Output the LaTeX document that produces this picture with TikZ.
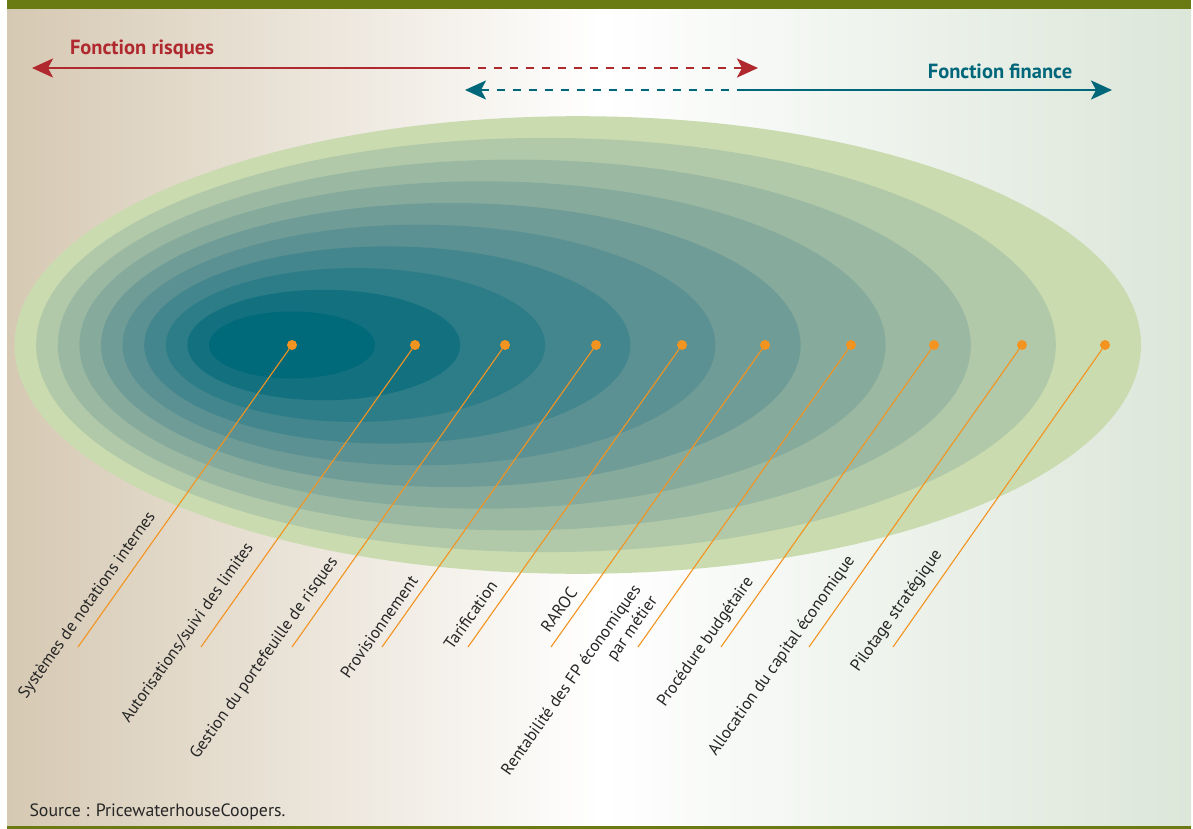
\documentclass[tikz,border=0pt]{standalone}
\usepackage{fontspec}
\setmainfont{PT Sans}
\definecolor{bgtan}{HTML}{D6C9B3}
\definecolor{bggreen}{HTML}{DCE6D9}
\definecolor{barolive}{HTML}{6B7B14}
\definecolor{riskred}{HTML}{B0292E}
\definecolor{finteal}{HTML}{00677A}
\definecolor{dotorange}{HTML}{F39320}
\definecolor{labelgray}{HTML}{262626}
\definecolor{ring0}{HTML}{006A7B}
\definecolor{ring1}{HTML}{12707F}
\definecolor{ring2}{HTML}{2C7D87}
\definecolor{ring3}{HTML}{43868E}
\definecolor{ring4}{HTML}{5B9192}
\definecolor{ring5}{HTML}{709C97}
\definecolor{ring6}{HTML}{86AB9D}
\definecolor{ring7}{HTML}{9BB9A2}
\definecolor{ring8}{HTML}{B1C9A9}
\definecolor{ring9}{HTML}{CADBAF}
\usetikzlibrary{arrows.meta}

\begin{document}
\begin{tikzpicture}[x=1pt, y=-1pt,
  dot/.style={circle, fill=dotorange, inner sep=0pt, minimum size=10pt},
  lead/.style={dotorange, line width=1.1pt},
  lbl/.style={rotate=54.7, font=\fontsize{16.8}{20}\selectfont, text=labelgray,
    inner sep=0pt},
  riskline/.style={riskred, line width=2.6pt},
  finline/.style={finteal, line width=2.6pt},
  gap/.style={dash pattern=on 8pt off 8pt, dash phase=8pt},
  head/.style={-{Stealth[length=21pt, width=19pt, inset=5pt]}},
  title/.style={font=\fontsize{20.5}{22}\selectfont\bfseries}
]
  \useasboundingbox (0,0) rectangle (1193,829);

  % Frame and background
  \shade[left color=bgtan, right color=bggreen, middle color=white] (7,9) rectangle (1191,826);
  \fill[barolive] (7,0) rectangle (1191,9);
  \fill[barolive] (7,826) rectangle (1191,829);

  % Nested rings, outermost first
  \fill[ring9] (577.8,345) ellipse [x radius=563.2pt, y radius=228.8pt];
  \fill[ring8] (546.0,345) ellipse [x radius=509.8pt, y radius=207.1pt];
  \fill[ring7] (514.3,345) ellipse [x radius=456.5pt, y radius=185.4pt];
  \fill[ring6] (482.5,345) ellipse [x radius=403.1pt, y radius=163.7pt];
  \fill[ring5] (450.8,345) ellipse [x radius=349.8pt, y radius=142.0pt];
  \fill[ring4] (419.0,345) ellipse [x radius=296.4pt, y radius=120.3pt];
  \fill[ring3] (387.3,345) ellipse [x radius=243.1pt, y radius=98.6pt];
  \fill[ring2] (355.5,345) ellipse [x radius=189.7pt, y radius=76.9pt];
  \fill[ring1] (323.8,345) ellipse [x radius=136.4pt, y radius=55.2pt];
  \fill[ring0] (292.0,345) ellipse [x radius=83.0pt, y radius=33.5pt];

  % Top arrows
  \coordinate (rL) at (32,68);
  \coordinate (rM) at (470,68);
  \coordinate (rR) at (758,68);
  \coordinate (fL) at (465,90);
  \coordinate (fM) at (737,90);
  \coordinate (fR) at (1112,90);
  \draw[riskline, head] (rM) -- (rL);
  \draw[riskline, gap, head] (rM) -- (rR);
  \draw[finline, head] (fM) -- (fR);
  \draw[finline, gap, head] (fM) -- (fL);
  \node[title, text=riskred] (risques) at (142,49) {Fonction risques};
  \node[title, text=finteal] (finance) at (1000,71) {Fonction finance};

  % Markers and leader lines
  \node[dot] (d0) at (292,345) {};
  \node[dot] (d1) at (415,345) {};
  \node[dot] (d2) at (505,345) {};
  \node[dot] (d3) at (596,345) {};
  \node[dot] (d4) at (682,345) {};
  \node[dot] (d5) at (765,345) {};
  \node[dot] (d6) at (851,345) {};
  \node[dot] (d7) at (934,345) {};
  \node[dot] (d8) at (1022,345) {};
  \node[dot] (d9) at (1105,345) {};
  \coordinate (e0) at (78,647);
  \coordinate (e1) at (201,647);
  \coordinate (e2) at (292,647);
  \coordinate (e3) at (382,647);
  \coordinate (e4) at (468,647);
  \coordinate (e5) at (551,647);
  \coordinate (e6) at (638,647);
  \coordinate (e7) at (721,647);
  \coordinate (e8) at (809,647);
  \coordinate (e9) at (893,647);
  \draw[lead] (e0) -- (d0);
  \draw[lead] (e1) -- (d1);
  \draw[lead] (e2) -- (d2);
  \draw[lead] (e3) -- (d3);
  \draw[lead] (e4) -- (d4);
  \draw[lead] (e5) -- (d5);
  \draw[lead] (e6) -- (d6);
  \draw[lead] (e7) -- (d7);
  \draw[lead] (e8) -- (d8);
  \draw[lead] (e9) -- (d9);

  % Labels
  \node[lbl] (l0) at (87.5,605.5) {Systèmes de notations internes};
  \node[lbl] (l1) at (187.5,633) {Autorisations/suivi des limites};
  \node[lbl] (l2) at (264.5,658) {Gestion du portefeuille de risques};
  \node[lbl] (l3) at (379,627) {Provisionnement};
  \node[lbl] (l4) at (470.5,615) {Tarification};
  \node[lbl] (l5) at (559,610) {RAROC};
  \node[lbl, align=right] (l6) at (580,686) {Rentabilité des FP économiques\\par métier};
  \node[lbl] (l7) at (706,642) {Procédure budgétaire};
  \node[lbl] (l8) at (782,656) {Allocation du capital économique};
  \node[lbl] (l9) at (897,611) {Pilotage stratégique};

  \node[anchor=west, font=\fontsize{17.8}{20}\selectfont, text=labelgray] (source) at (26,812) {Source : PricewaterhouseCoopers.};
\end{tikzpicture}
\end{document}
